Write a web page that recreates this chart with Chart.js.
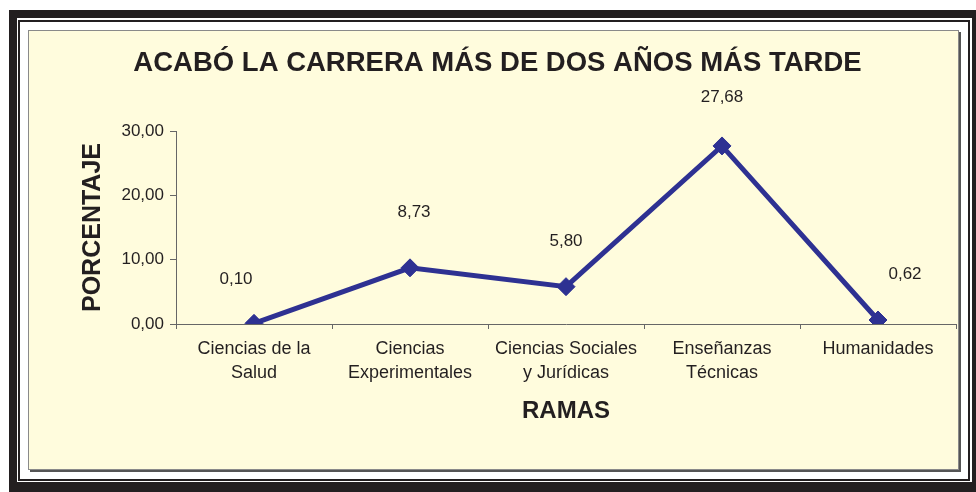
<!DOCTYPE html>
<html>
<head>
<meta charset="utf-8">
<script src="https://cdn.jsdelivr.net/npm/chart.js@4.4.0/dist/chart.umd.min.js"></script>
<style>
  html, body { margin: 0; padding: 0; background: #fff; }
  body { width: 976px; height: 492px; position: relative; overflow: hidden; }
  .outer { position: absolute; left: 9px; top: 10px; width: 967px; height: 482px; background: #231f20; }
  .inner { position: absolute; left: 17px; top: 18px; width: 955px; height: 464px; background: #fff; }
  .line { position: absolute; left: 18px; top: 20px; width: 952px; height: 461px; border: 2px solid #231f20; box-sizing: border-box; }
  .panel { position: absolute; left: 28px; top: 30px; width: 929px; height: 438px; background: #fffcdd;
           border: 1px solid #8a8a8a; box-shadow: 2px 2px 0 #555; overflow: hidden; }
  canvas { display: block; }
</style>
</head>
<body>
<div class="outer"></div>
<div class="inner"></div>
<div class="line"></div>
<div class="panel"><canvas id="graph" width="937" height="438"></canvas></div>
<script>
// Data arrays
const categories = [
    ['Ciencias de la', 'Salud'],
    ['Ciencias', 'Experimentales'],
    ['Ciencias Sociales', 'y Jurídicas'],
    ['Enseñanzas', 'Técnicas'],
    'Humanidades'
];
const percentages = [0.10, 8.73, 5.80, 27.68, 0.62];
const yTicks = [0, 10, 20, 30];

const fontFamily = "'Liberation Sans', Arial, sans-serif";
const textColor = '#231f20';
const lineColor = '#2e3192';

// label offsets relative to each point (style only)
const labelShift = [[-18, -44], [4, -56], [0, -45], [0, -49], [27, -46]];

const fmt = v => Number(v).toFixed(2).replace('.', ',');

// Draws the value labels above the points
const valueLabels = {
    id: 'valueLabels',
    afterDatasetsDraw(chart) {
        const ctx = chart.ctx;
        const meta = chart.getDatasetMeta(0);
        ctx.save();
        ctx.font = '17px ' + fontFamily;
        ctx.fillStyle = textColor;
        ctx.textAlign = 'center';
        ctx.textBaseline = 'middle';
        meta.data.forEach((pt, i) => {
            const s = labelShift[i];
            ctx.fillText(fmt(percentages[i]), pt.x + s[0], pt.y + s[1]);
        });
        ctx.restore();
    }
};

const ctx = document.getElementById('graph').getContext('2d');

const graph = new Chart(ctx, {
    type: 'line',
    data: {
        labels: categories,
        datasets: [{
            label: 'Porcentaje',
            data: percentages,
            borderColor: lineColor,
            backgroundColor: lineColor,
            borderWidth: 5,
            pointStyle: 'rectRot',
            pointRadius: 9,
            pointBorderWidth: 1,
            tension: 0
        }]
    },
    options: {
        responsive: false,
        animation: false,
        devicePixelRatio: 1,
        layout: {
            padding: { left: 0, right: 0, top: 0, bottom: 0 }
        },
        scales: {
            x: {
                offset: true,
                grid: {
                    offset: true,
                    drawOnChartArea: false,
                    drawTicks: true,
                    tickLength: 5,
                    color: '#666'
                },
                border: { display: true, color: '#666', width: 1 },
                ticks: {
                    color: textColor,
                    font: { family: fontFamily, size: 18, lineHeight: 1.35 },
                    maxRotation: 0,
                    autoSkip: false,
                    padding: 8
                },
                title: {
                    display: true,
                    text: 'RAMAS',
                    color: textColor,
                    font: { family: fontFamily, size: 24, weight: 'bold' },
                    padding: { top: 0, bottom: 43 }
                },
                afterFit: scale => { scale.height = 145; }
            },
            y: {
                min: 0,
                max: 30,
                afterBuildTicks: scale => { scale.ticks = yTicks.map(v => ({ value: v })); },
                grid: {
                    drawOnChartArea: false,
                    drawTicks: true,
                    tickLength: 6,
                    color: '#666'
                },
                border: { display: true, color: '#666', width: 1 },
                ticks: {
                    color: textColor,
                    font: { family: fontFamily, size: 17 },
                    padding: 6,
                    callback: v => fmt(v)
                },
                title: {
                    display: true,
                    text: 'PORCENTAJE',
                    color: textColor,
                    font: { family: fontFamily, size: 25, weight: 'bold' },
                    padding: { top: 49, bottom: 0 }
                },
                afterFit: scale => { scale.width = 147; }
            }
        },
        plugins: {
            legend: { display: false },
            tooltip: { enabled: false },
            title: {
                display: true,
                text: 'ACABÓ LA CARRERA MÁS DE DOS AÑOS MÁS TARDE',
                color: textColor,
                font: { family: fontFamily, size: 27.5, weight: 'bold' },
                padding: { top: 16, bottom: 51 }
            }
        }
    },
    plugins: [valueLabels]
});
</script>
</body>
</html>
